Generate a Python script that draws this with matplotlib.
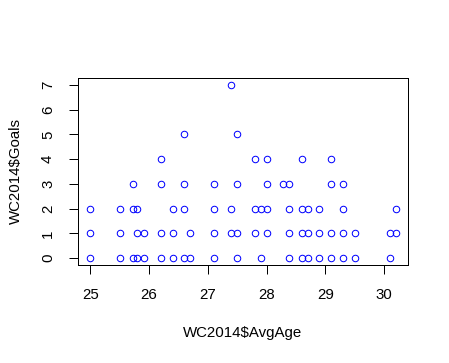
import matplotlib
matplotlib.use("Agg")
import matplotlib.pyplot as plt

plt.rcParams['font.family'] = ['Liberation Sans', 'DejaVu Sans']

# Average age per team and goals
avg_age = [25.0, 25.5, 25.72, 25.8, 25.91, 26.21, 26.41, 26.59, 26.7,
           27.11, 27.39, 27.5, 27.8, 27.9, 28.0, 28.28, 28.39, 28.6, 28.7,
           28.9, 29.09, 29.3, 29.5, 30.1, 30.2]
goals_sets = [[0, 1, 2], [0, 1, 2], [0, 2, 3], [0, 1, 2], [0, 1], [0, 1, 3, 4],
              [0, 1, 2], [0, 2, 3, 5], [0, 1],
              [0, 1, 2, 3], [1, 2, 7], [0, 1, 3, 5], [1, 2, 4], [0, 2],
              [1, 2, 3, 4], [3], [0, 1, 2, 3], [0, 1, 2, 4], [0, 1, 2],
              [0, 1, 2], [0, 1, 3, 4], [0, 1, 2, 3], [0, 1], [0, 1], [1, 2]]

xs, ys = [], []
for a, gs in zip(avg_age, goals_sets):
    for g in gs:
        xs.append(a)
        ys.append(g)

x_ticks = [25, 26, 27, 28, 29, 30]
y_ticks = [0, 1, 2, 3, 4, 5, 6, 7]

fig = plt.figure(figsize=(449 / 72, 363 / 72), dpi=72)
ax = fig.add_axes([78 / 449, 1 - 265 / 363, (408 - 78) / 449, (265 - 78) / 363])

ax.plot(xs, ys, linestyle='none', marker='o', markersize=6.5,
        markerfacecolor='none', markeredgecolor='blue', markeredgewidth=1)

xmin, xmax = min(xs), max(xs)
ymin, ymax = min(ys), max(ys)
px = (xmax - xmin) * 0.04
py = (ymax - ymin) * 0.04
ax.set_xlim(xmin - px, xmax + px)
ax.set_ylim(ymin - py, ymax + py)

ax.set_xticks(x_ticks)
ax.set_xticklabels([str(t) for t in x_ticks])
ax.set_yticks(y_ticks)
ax.set_yticklabels([str(t) for t in y_ticks], rotation=90, va='center')
ax.tick_params(axis='both', direction='out', length=9, width=1, labelsize=15, color='black')
ax.tick_params(axis='x', pad=14)
ax.tick_params(axis='y', pad=14)

for s in ax.spines.values():
    s.set_linewidth(1)
    s.set_color('black')

ax.set_xlabel('WC2014$AvgAge', fontsize=15, labelpad=24)
ax.set_ylabel('WC2014$Goals', fontsize=15, labelpad=18)

fig.savefig('out.png', dpi=72)
